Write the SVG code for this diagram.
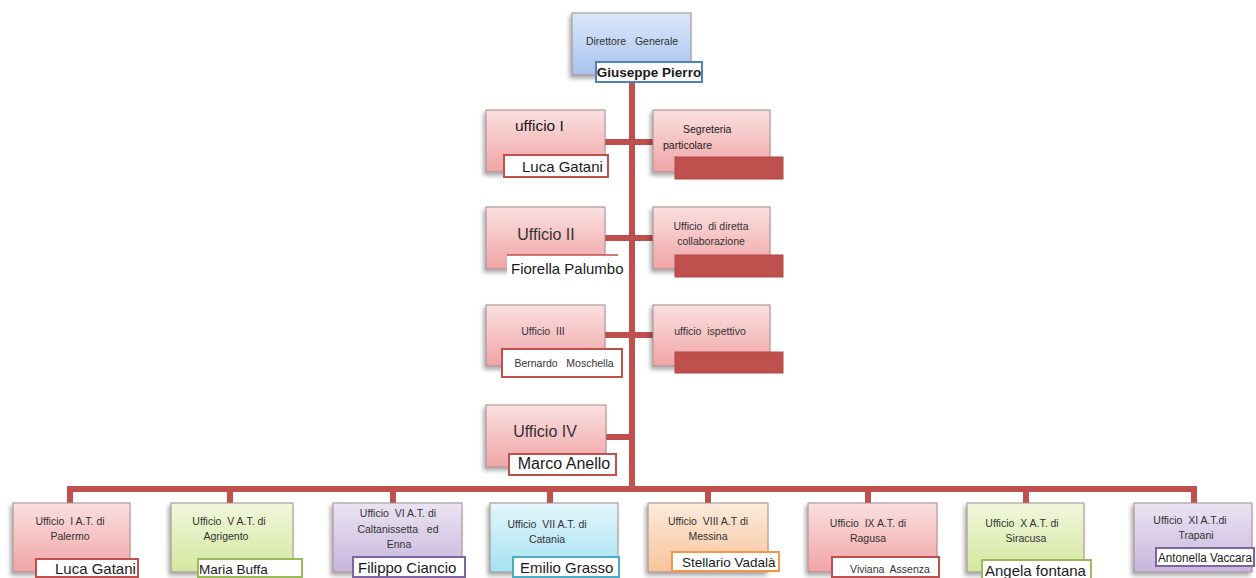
<svg xmlns="http://www.w3.org/2000/svg" width="1256" height="578" viewBox="0 0 1256 578" xml:space="preserve">
<defs>
<linearGradient id="gPink" x1="0" y1="0" x2="0" y2="1"><stop offset="0" stop-color="#fbe0e0"/><stop offset="1" stop-color="#f0a4a6"/></linearGradient>
<linearGradient id="gBlue" x1="0" y1="0" x2="0" y2="1"><stop offset="0" stop-color="#dce7f8"/><stop offset="1" stop-color="#a8c3ee"/></linearGradient>
<linearGradient id="gGreen" x1="0" y1="0" x2="0" y2="1"><stop offset="0" stop-color="#f1f7dc"/><stop offset="1" stop-color="#d4e7a0"/></linearGradient>
<linearGradient id="gPurple" x1="0" y1="0" x2="0" y2="1"><stop offset="0" stop-color="#ebe4f3"/><stop offset="1" stop-color="#c6b6dc"/></linearGradient>
<linearGradient id="gCyan" x1="0" y1="0" x2="0" y2="1"><stop offset="0" stop-color="#e3f6fc"/><stop offset="1" stop-color="#a6e1f2"/></linearGradient>
<linearGradient id="gOrange" x1="0" y1="0" x2="0" y2="1"><stop offset="0" stop-color="#fdebdc"/><stop offset="1" stop-color="#f7c49a"/></linearGradient>
<filter id="sh" x="-20%" y="-20%" width="140%" height="150%"><feDropShadow dx="-2" dy="3" stdDeviation="2" flood-color="#000" flood-opacity="0.35"/></filter>
</defs>
<style>
.box{stroke:#a08c8c;stroke-width:1;filter:url(#sh)}
.pink{fill:url(#gPink)}
.blue{fill:url(#gBlue)}
.green{fill:url(#gGreen)}
.purple{fill:url(#gPurple)}
.cyan{fill:url(#gCyan)}
.orange{fill:url(#gOrange)}
.lab{fill:#fff;stroke-width:2}
.bar{fill:#c0504d;stroke:#b04845;stroke-width:1}
.conn line{stroke:#c0504d;stroke-width:6}
text{font-family:"Liberation Sans",Arial,sans-serif;fill:#1a1a1a;white-space:pre}
.s{font-size:10.5px;text-anchor:middle;fill:#333}
.m{font-size:15px}
.b{font-size:16px;text-anchor:middle;fill:#333}
</style>
<rect width="1256" height="578" fill="#fff"/>
<g class="conn" id="connectors">
<line x1="632" y1="80" x2="632" y2="492"/>
<line x1="605" y1="142" x2="653" y2="142"/>
<line x1="605" y1="238" x2="653" y2="238"/>
<line x1="605" y1="335" x2="653" y2="335"/>
<line x1="605" y1="437" x2="632" y2="437"/>
<line x1="67" y1="489" x2="1197" y2="489"/>
<line x1="70" y1="486" x2="70" y2="504"/>
<line x1="230" y1="486" x2="230" y2="504"/>
<line x1="393" y1="486" x2="393" y2="504"/>
<line x1="550" y1="486" x2="550" y2="504"/>
<line x1="708" y1="486" x2="708" y2="504"/>
<line x1="868" y1="486" x2="868" y2="504"/>
<line x1="1026" y1="486" x2="1026" y2="504"/>
<line x1="1194" y1="486" x2="1194" y2="504"/>
</g>
<g id="direttore">
<rect class="box blue" x="572" y="13" width="119" height="62"/>
<text class="s" x="632" y="45">Direttore   Generale</text>
<rect class="lab" x="596" y="62" width="106" height="20" stroke="#4f81bd"/>
<text x="649" y="77" font-size="13.5" font-weight="bold" text-anchor="middle" fill="#111">Giuseppe Pierro</text>
</g>
<g id="ufficio1">
<rect class="box pink" x="486" y="110" width="119" height="62"/>
<text x="515" y="131" font-size="15.5" fill="#333">ufficio I</text>
<rect class="lab" x="504" y="155" width="104" height="22" stroke="#c0504d"/>
<text class="m" x="522" y="172">Luca Gatani</text>
</g>
<g id="segreteria">
<rect class="box pink" x="653" y="110" width="117" height="62"/>
<text x="683" y="133" font-size="10.5" fill="#333">Segreteria</text>
<text x="663" y="149" font-size="10.5" fill="#333">particolare</text>
<rect class="bar" x="675" y="157" width="108" height="22"/>
</g>
<g id="ufficio2">
<rect class="box pink" x="486" y="207" width="119" height="62"/>
<text class="b" x="546" y="240">Ufficio II</text>
<rect x="507" y="255" width="111" height="24" fill="#fff"/>
<line x1="507" y1="255" x2="618" y2="255" stroke="#c0504d" stroke-width="1.5"/>
<text class="m" x="511" y="274">Fiorella Palumbo</text>
</g>
<g id="collaborazione">
<rect class="box pink" x="653" y="207" width="117" height="62"/>
<text class="s" x="711" y="230">Ufficio  di diretta</text>
<text class="s" x="711" y="245">collaborazione</text>
<rect class="bar" x="675" y="255" width="108" height="22"/>
</g>
<g id="ufficio3">
<rect class="box pink" x="486" y="305" width="119" height="61"/>
<text class="s" x="543" y="335">Ufficio  III</text>
<rect class="lab" x="502" y="349" width="120" height="28" stroke="#c0504d"/>
<text class="s" x="564" y="367">Bernardo   Moschella</text>
</g>
<g id="ispettivo">
<rect class="box pink" x="653" y="305" width="117" height="61"/>
<text class="s" x="710" y="335">ufficio  ispettivo</text>
<rect class="bar" x="675" y="352" width="108" height="21"/>
</g>
<g id="ufficio4">
<rect class="box pink" x="486" y="405" width="120" height="62"/>
<text class="b" x="545" y="437">Ufficio IV</text>
<rect class="lab" x="509" y="454" width="107" height="21" stroke="#c0504d"/>
<text x="564" y="469" font-size="16" text-anchor="middle">Marco Anello</text>
</g>
<g id="palermo">
<rect class="box pink" x="13" y="503" width="117" height="69"/>
<text class="s" x="70" y="525">Ufficio  I A.T. di</text>
<text class="s" x="70" y="540">Palermo</text>
<rect class="lab" x="36" y="559" width="102" height="18" stroke="#c0504d"/>
<text class="m" x="55" y="574">Luca Gatani</text>
</g>
<g id="agrigento">
<rect class="box green" x="171" y="503" width="122" height="69"/>
<text class="s" x="229" y="525">Ufficio  V A.T. di</text>
<text class="s" x="226" y="540">Agrigento</text>
<rect class="lab" x="198" y="559" width="104" height="18" stroke="#9bbb59"/>
<text x="199" y="574" font-size="13.5">Maria Buffa</text>
</g>
<g id="caltanissetta">
<rect class="box purple" x="333" y="503" width="129" height="69"/>
<text class="s" x="398" y="517">Ufficio  VI A.T. di</text>
<text class="s" x="398" y="533">Caltanissetta   ed</text>
<text class="s" x="399" y="548">Enna</text>
<rect class="lab" x="353" y="557" width="112" height="20" stroke="#8064a2"/>
<text class="m" x="358" y="573">Filippo Ciancio</text>
</g>
<g id="catania">
<rect class="box cyan" x="490" y="503" width="128" height="69"/>
<text class="s" x="547" y="528">Ufficio  VII A.T. di</text>
<text class="s" x="547" y="543">Catania</text>
<rect class="lab" x="513" y="557" width="106" height="20" stroke="#4bacc6"/>
<text class="m" x="520" y="573">Emilio Grasso</text>
</g>
<g id="messina">
<rect class="box orange" x="648" y="503" width="120" height="69"/>
<text class="s" x="708" y="525">Ufficio  VIII A.T di</text>
<text class="s" x="708" y="540">Messina</text>
<rect class="lab" x="672" y="552" width="107" height="19" stroke="#f79646"/>
<text x="682" y="567" font-size="13.5">Stellario Vadalà</text>
</g>
<g id="ragusa">
<rect class="box pink" x="808" y="503" width="129" height="69"/>
<text class="s" x="868" y="527">Ufficio  IX A.T. di</text>
<text class="s" x="868" y="542">Ragusa</text>
<rect class="lab" x="832" y="557" width="107" height="20" stroke="#c0504d"/>
<text class="s" x="890" y="573">Viviana  Assenza</text>
</g>
<g id="siracusa">
<rect class="box green" x="967" y="503" width="117" height="69"/>
<text class="s" x="1022" y="527">Ufficio  X A.T. di</text>
<text class="s" x="1026" y="542">Siracusa</text>
<rect class="lab" x="982" y="560" width="109" height="20" stroke="#9bbb59"/>
<text class="m" x="985" y="576">Angela fontana</text>
</g>
<g id="trapani">
<rect class="box purple" x="1134" y="503" width="118" height="69"/>
<text class="s" x="1190" y="524">Ufficio  XI A.T.di</text>
<text class="s" x="1196" y="539">Trapani</text>
<rect class="lab" x="1156" y="548" width="98" height="18" stroke="#8064a2"/>
<text x="1158" y="562" font-size="12.5" textLength="94" lengthAdjust="spacingAndGlyphs">Antonella Vaccara</text>
</g>
</svg>
